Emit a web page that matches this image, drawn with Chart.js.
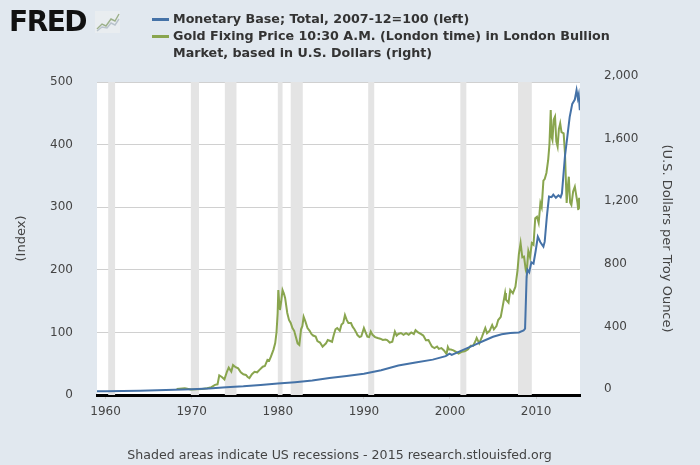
<!DOCTYPE html>
<html>
<head>
<meta charset="utf-8">
<script src="https://cdn.jsdelivr.net/npm/chart.js@4/dist/chart.umd.min.js"></script>
<style>
  html, body { margin: 0; padding: 0; background: #e1e8ef; }
  #wrap { position: relative; width: 700px; height: 465px; font-family: "DejaVu Sans", Verdana, sans-serif; }
  #fredChart { position: absolute; left: 0; top: 0; }
  .logo { position: absolute; left: 9px; top: 5px; font: 900 28px "DejaVu Sans", sans-serif; letter-spacing: -1.5px; color: #111; }
  .logo svg { position: absolute; left: 86px; top: 6px; }
  .legend { position: absolute; left: 152px; top: 10px; font-weight: bold; font-size: 12.7px; line-height: 17px; color: #333; }
  .legend div { position: relative; padding-left: 21px; }
  .legend span.sw { position: absolute; left: 0; top: 8px; width: 17px; height: 3px; }
  .foot { position: absolute; left: 0; width: 679px; top: 447px; text-align: center; font-size: 12.6px; color: #444; }
</style>
</head>
<body>
<div id="wrap">
  <canvas id="fredChart" width="700" height="465"></canvas>
  <div class="logo">FRED<svg width="25" height="22" viewBox="0 0 25 22">
    <rect x="0" y="0" width="25" height="22" fill="#e9edf0"/>
    <polyline points="2,18 7,13 11,15 16,8 20,10 24,3" fill="none" stroke="#9cb08a" stroke-width="1.4"/>
    <polyline points="2,20 7,16 12,17 16,12 20,14 24,8" fill="none" stroke="#b9c3cc" stroke-width="1.4"/>
  </svg></div>
  <div class="legend">
    <div><span class="sw" style="background:#4572a7"></span>Monetary Base; Total, 2007-12=100 (left)</div>
    <div><span class="sw" style="background:#89a54e"></span>Gold Fixing Price 10:30 A.M. (London time) in London Bullion<br>Market, based in U.S. Dollars (right)</div>
  </div>
  <div class="foot">Shaded areas indicate US recessions - 2015 research.stlouisfed.org</div>
</div>
<script>
// Monetary Base index (2007-12=100), decimal year
const baseYears = [1959.0, 1960, 1962, 1964, 1966, 1968, 1970, 1972, 1974, 1976, 1978, 1980, 1982, 1984, 1986, 1988, 1990, 1992, 1994, 1996, 1998, 1999.5, 1999.95, 2000.2, 2001, 2002, 2003, 2004, 2005, 2006, 2007, 2008.0, 2008.55, 2008.72, 2008.9, 2009.0, 2009.2, 2009.45, 2009.7, 2009.95, 2010.2, 2010.5, 2010.85, 2011.0, 2011.25, 2011.5, 2011.8, 2012.0, 2012.3, 2012.6, 2012.85, 2013.0, 2013.35, 2013.65, 2013.9, 2014.2, 2014.5, 2014.7, 2014.85, 2014.95, 2015.08];
const baseValues = [6.0, 6.0, 6.2, 6.8, 7.4, 8.4, 9.2, 10.5, 12.3, 13.8, 16.0, 18.2, 20.5, 23.2, 27.0, 30.5, 34.0, 39.5, 47.0, 52.0, 56.5, 62, 66, 64, 69, 75, 81, 87, 93, 97, 99, 100, 103, 106, 189, 200, 196, 212, 210, 230, 253, 244, 237, 245, 285, 317, 316, 320, 315, 319, 316, 322, 381, 415, 444, 465, 472, 487, 474, 480, 455];

// Gold fixing price, U.S. dollars per troy ounce
const goldYears = [1968.25, 1968.6, 1969.2, 1969.9, 1970.5, 1971.2, 1971.8, 1972.3, 1972.7, 1973.0, 1973.2, 1973.5, 1973.8, 1974.1, 1974.3, 1974.6, 1974.8, 1975.1, 1975.4, 1975.7, 1976.0, 1976.3, 1976.5, 1976.7, 1977.0, 1977.3, 1977.6, 1977.9, 1978.25, 1978.5, 1978.8, 1979.0, 1979.2, 1979.5, 1979.7, 1979.85, 1979.98, 1980.06, 1980.15, 1980.25, 1980.4, 1980.55, 1980.7, 1980.85, 1981.1, 1981.3, 1981.5, 1981.7, 1981.9, 1982.1, 1982.3, 1982.5, 1982.7, 1982.85, 1983.0, 1983.2, 1983.45, 1983.7, 1983.9, 1984.1, 1984.4, 1984.6, 1984.9, 1985.2, 1985.4, 1985.6, 1985.8, 1986.1, 1986.3, 1986.5, 1986.7, 1986.9, 1987.2, 1987.4, 1987.6, 1987.8, 1988.0, 1988.2, 1988.5, 1988.7, 1988.9, 1989.1, 1989.25, 1989.5, 1989.7, 1990.0, 1990.2, 1990.4, 1990.6, 1990.8, 1991.0, 1991.3, 1991.6, 1991.9, 1992.2, 1992.5, 1992.7, 1993.0, 1993.3, 1993.6, 1993.8, 1994.0, 1994.3, 1994.6, 1994.9, 1995.2, 1995.5, 1995.8, 1996.0, 1996.3, 1996.6, 1996.9, 1997.2, 1997.5, 1997.7, 1997.9, 1998.2, 1998.5, 1998.7, 1999.0, 1999.3, 1999.6, 1999.75, 1999.9, 2000.1, 2000.4, 2000.7, 2001.0, 2001.4, 2001.7, 2001.9, 2002.1, 2002.4, 2002.7, 2003.0, 2003.1, 2003.4, 2003.7, 2004.1, 2004.3, 2004.6, 2004.9, 2005.1, 2005.4, 2005.6, 2005.9, 2006.1, 2006.4, 2006.5, 2006.8, 2007.0, 2007.3, 2007.6, 2007.85, 2008.0, 2008.2, 2008.4, 2008.6, 2008.8, 2008.9, 2009.1, 2009.3, 2009.5, 2009.7, 2009.9, 2010.1, 2010.3, 2010.5, 2010.65, 2010.85, 2011.0, 2011.2, 2011.4, 2011.55, 2011.7, 2011.8, 2011.9, 2012.05, 2012.2, 2012.35, 2012.5, 2012.65, 2012.8, 2012.95, 2013.2, 2013.35, 2013.55, 2013.7, 2013.8, 2013.95, 2014.1, 2014.3, 2014.5, 2014.65, 2014.8, 2014.9, 2015.0, 2015.1];
const goldValues = [38, 40, 43, 35, 36, 39, 43, 50, 65, 68, 125, 115, 100, 150, 175, 150, 192, 178, 170, 145, 132, 128, 115, 108, 133, 148, 145, 162, 181, 185, 225, 220, 245, 290, 332, 400, 520, 671, 600, 543, 600, 671, 650, 620, 524, 480, 460, 428, 410, 370, 330, 320, 420, 440, 500, 470, 428, 410, 390, 380, 373, 345, 335, 309, 320, 330, 351, 345, 340, 383, 420, 428, 410, 450, 460, 511, 480, 460, 460, 435, 420, 400, 383, 370, 375, 428, 400, 373, 370, 405, 385, 370, 364, 360, 352, 355, 351, 335, 341, 405, 380, 390, 396, 385, 395, 385, 400, 390, 415, 400, 390, 380, 350, 351, 330, 310, 300, 310, 295, 300, 285, 262, 307, 290, 290, 285, 275, 265, 277, 280, 285, 292, 315, 315, 350, 364, 330, 370, 428, 395, 410, 447, 420, 440, 479, 500, 560, 652, 610, 590, 671, 650, 692, 800, 900, 971, 880, 884, 799, 780, 920, 880, 971, 960, 1130, 1139, 1100, 1227, 1200, 1370, 1380, 1419, 1500, 1600, 1821, 1650, 1630, 1760, 1779, 1620, 1587, 1700, 1736, 1680, 1672, 1550, 1227, 1340, 1395, 1230, 1214, 1300, 1331, 1280, 1230, 1182, 1260, 1190];

// US recessions (start, end) as decimal years
const recessionStart = [1960.3, 1969.9, 1973.85, 1980.0, 1981.5, 1990.5, 2001.2, 2007.9];
const recessionEnd = [1961.1, 1970.85, 1975.2, 1980.55, 1982.9, 1991.2, 2001.9, 2009.5];

const xTicks = [1960, 1970, 1980, 1990, 2000, 2010];

const recessionPlugin = {
  id: 'recessions',
  beforeDatasetsDraw(chart) {
    const ctx = chart.ctx;
    const x = chart.scales.x;
    const area = chart.chartArea;
    ctx.save();
    ctx.fillStyle = '#e4e4e4';
    for (let i = 0; i < recessionStart.length; i++) {
      const x0 = x.getPixelForValue(recessionStart[i]);
      const x1 = x.getPixelForValue(recessionEnd[i]);
      ctx.fillRect(x0, area.top, x1 - x0, area.bottom - area.top);
    }
    ctx.restore();
  }
};

const plotBg = {
  id: 'plotBg',
  beforeDraw(chart) {
    const a = chart.chartArea;
    chart.ctx.save();
    chart.ctx.fillStyle = '#ffffff';
    chart.ctx.fillRect(a.left, a.top, a.right - a.left, a.bottom - a.top);
    chart.ctx.restore();
  }
};

const tickFont = { family: '"DejaVu Sans", Verdana, sans-serif', size: 12 };

const config = {
  type: 'line',
  data: {
    datasets: [
      {
        label: 'Monetary Base; Total, 2007-12=100 (left)',
        data: baseYears.map((y, i) => ({ x: y, y: baseValues[i] })),
        borderColor: '#4572a7',
        borderWidth: 2,
        pointRadius: 0,
        tension: 0,
        yAxisID: 'y'
      },
      {
        label: 'Gold Fixing Price 10:30 A.M. (London time) in London Bullion Market, based in U.S. Dollars (right)',
        data: goldYears.map((y, i) => ({ x: y, y: goldValues[i] })),
        borderColor: '#89a54e',
        borderWidth: 2,
        pointRadius: 0,
        tension: 0,
        yAxisID: 'y1'
      }
    ]
  },
  options: {
    responsive: false,
    animation: false,
    layout: { padding: { top: 82, left: 0, right: 0, bottom: 40 } },
    plugins: {
      legend: { display: false },
      tooltip: { enabled: false }
    },
    scales: {
      x: {
        type: 'linear',
        min: 1959.0,
        max: 2015.1,
        afterBuildTicks(scale) { scale.ticks = xTicks.map(v => ({ value: v })); },
        afterFit(scale) { scale.height = 30; },
        ticks: {
          color: '#444',
          font: tickFont,
          padding: 6,
          maxRotation: 0,
          callback: v => String(v)
        },
        grid: { drawOnChartArea: false, drawTicks: true, tickLength: 4, color: '#ccc' },
        border: { color: '#000', width: 3 }
      },
      y: {
        position: 'left',
        min: 0,
        max: 500,
        afterBuildTicks(scale) { scale.ticks = [0, 100, 200, 300, 400, 500].map(v => ({ value: v })); },
        afterFit(scale) { scale.width = 97; },
        ticks: { color: '#444', font: tickFont, padding: 24 },
        grid: { color: '#d0d0d0', drawTicks: false },
        border: { display: false },
        title: {
          display: true,
          text: '(Index)',
          color: '#444',
          font: { family: '"DejaVu Sans", Verdana, sans-serif', size: 13 },
          padding: { top: 14 }
        }
      },
      y1: {
        position: 'right',
        min: 0,
        max: 2000,
        afterBuildTicks(scale) { scale.ticks = [0, 400, 800, 1200, 1600, 2000].map(v => ({ value: v })); },
        afterFit(scale) { scale.width = 120; },
        ticks: {
          color: '#444',
          font: tickFont,
          padding: 24,
          labelOffset: -6,
          callback: v => v.toLocaleString('en-US')
        },
        grid: { drawOnChartArea: false, drawTicks: false },
        border: { display: false },
        title: {
          display: true,
          text: '(U.S. Dollars per Troy Ounce)',
          color: '#444',
          font: { family: '"DejaVu Sans", Verdana, sans-serif', size: 13 },
          padding: { top: 26 }
        }
      }
    }
  },
  plugins: [plotBg, recessionPlugin]
};

const fredChart = new Chart(document.getElementById('fredChart'), config);
</script>
</body>
</html>
